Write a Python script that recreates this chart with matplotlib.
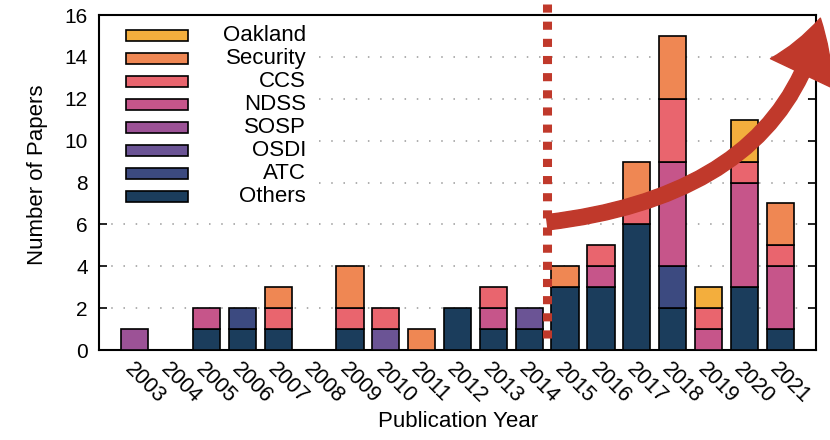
import numpy as np
import matplotlib.pyplot as plt
from matplotlib.patches import Rectangle, FancyArrowPatch
from matplotlib.path import Path

plt.rcParams['font.family'] = ['Liberation Sans', 'DejaVu Sans']

# data, stacked bottom -> top
years = list(range(2003, 2022))
venues = ['Others', 'ATC', 'OSDI', 'SOSP', 'NDSS', 'CCS', 'Security', 'Oakland']
colors = ['#1b3d5c', '#3c4a80', '#6b5495', '#9c5296',
          '#c6558a', '#e9656e', '#ef8753', '#f3ae3d']

others   = [0, 0, 1, 1, 1, 0, 1, 0, 0, 2, 1, 1, 3, 3, 6, 2, 0, 3, 1]
atc      = [0, 0, 0, 1, 0, 0, 0, 0, 0, 0, 0, 0, 0, 0, 0, 2, 0, 0, 0]
osdi     = [0, 0, 0, 0, 0, 0, 0, 1, 0, 0, 0, 1, 0, 0, 0, 0, 0, 0, 0]
sosp     = [1, 0, 0, 0, 0, 0, 0, 0, 0, 0, 0, 0, 0, 0, 0, 0, 0, 0, 0]
ndss     = [0, 0, 1, 0, 0, 0, 0, 0, 0, 0, 1, 0, 0, 1, 0, 5, 1, 5, 3]
ccs      = [0, 0, 0, 0, 1, 0, 1, 1, 0, 0, 1, 0, 0, 1, 1, 3, 1, 1, 1]
security = [0, 0, 0, 0, 1, 0, 2, 0, 1, 0, 0, 0, 1, 0, 2, 3, 0, 0, 2]
oakland  = [0, 0, 0, 0, 0, 0, 0, 0, 0, 0, 0, 0, 0, 0, 0, 0, 1, 2, 0]
series = [others, atc, osdi, sosp, ndss, ccs, security, oakland]

split_year = 2014.5   # dashed divider

fig = plt.figure(figsize=(8.3, 4.4), dpi=100)
ax = fig.add_axes([0.1193, 0.2045, 0.8639, 0.7614])

x = np.arange(len(years))
bottom = np.zeros(len(years))
for vals, c in zip(series, colors):
    vals = np.array(vals, dtype=float)
    bars = ax.bar(x, vals, 0.76, bottom=bottom, color=c,
                  edgecolor='black', linewidth=1.2, zorder=3)
    for b, v in zip(bars, vals):
        if v == 0:
            b.set_visible(False)
    bottom += vals

ax.set_xlim(-1, len(years))
ax.set_ylim(0, 16)
ax.set_yticks(range(0, 17, 2))
ax.set_xticks(x)
ax.set_xticklabels([str(y) for y in years], rotation=-45, ha='left',
                   va='top', rotation_mode='anchor')

for g in range(2, 16, 2):
    ax.axhline(g, color='#999999', lw=1.1, ls=(0, (1, 7)), zorder=1)

ax.tick_params(axis='y', direction='in', length=6, width=1.2,
               right=True, labelsize=15, pad=8)
ax.tick_params(axis='x', length=0, labelsize=15.5, pad=6)
for s in ax.spines.values():
    s.set_linewidth(1.5)

ax.set_xlabel('Publication Year', fontsize=16)
ax.set_ylabel('Number of Papers', fontsize=16)
ax.xaxis.set_label_coords(0.501, -0.182)
ax.yaxis.set_label_coords(-0.071, 0.522)

# legend drawn by hand: boxes first, labels right-aligned
ax.add_patch(Rectangle((0, 0.43), 0.294, 0.57, transform=ax.transAxes,
                       facecolor='white', edgecolor='none', zorder=2))
for i, (name, c) in enumerate(zip(venues[::-1], colors[::-1])):
    yy = 0.9388 - i * 0.0687
    ax.add_patch(Rectangle((0.0377, yy - 0.0164), 0.0865, 0.0328,
                           transform=ax.transAxes, facecolor=c,
                           edgecolor='black', lw=1.2, zorder=5))
    ax.text(0.289, yy, name, transform=ax.transAxes, ha='right',
            va='center', fontsize=16, zorder=5)

# divider and trend arrow
sx = years.index(2014) + (split_year - 2014)
ax.plot([sx, sx], [16.52, 0.3], color='#c0392b', lw=6.5,
        dashes=(0.9, 1.0), dash_capstyle='butt', clip_on=False, zorder=6)

curve = Path([(sx, 6.1), (18.06, 7.45), (19.12, 15.85)],
             [Path.MOVETO, Path.CURVE3, Path.CURVE3])
arrow = FancyArrowPatch(path=curve,
                        arrowstyle='simple,head_length=4.2,head_width=5.0,tail_width=1.1',
                        mutation_scale=10, color='#c0392b', zorder=7,
                        clip_on=False, transform=ax.transData)
ax.add_patch(arrow)

fig.savefig('out.png', dpi=100)
